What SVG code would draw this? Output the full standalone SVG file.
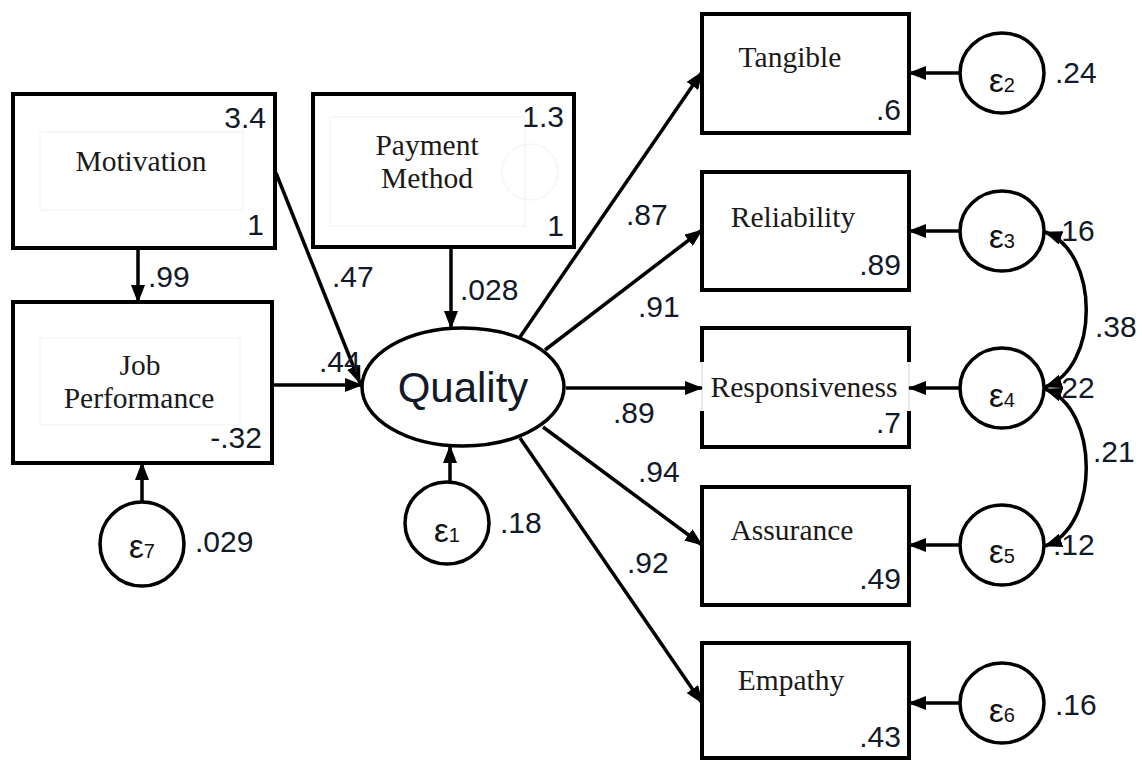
<svg xmlns="http://www.w3.org/2000/svg" width="1142" height="762" viewBox="0 0 1142 762">
<style>
.box{fill:#fff;stroke:#000;stroke-width:4}
.faint{fill:none;stroke:#f1f1f1;stroke-width:1}
.lat{fill:#fff;stroke:#000;stroke-width:3.5}
.lbl{font-family:"Liberation Serif","Times New Roman",serif;font-size:29.5px;fill:#1a1a1a;text-anchor:middle}
.num{font-family:"Liberation Sans",Arial,sans-serif;font-size:30px;fill:#111a2a}
.end{text-anchor:end}
.eps{font-family:"Liberation Sans",Arial,sans-serif;font-size:33px;fill:#111;text-anchor:middle}
.sub{font-size:20px}
.q{font-family:"Liberation Sans",Arial,sans-serif;font-size:42px;fill:#111a2a;text-anchor:middle}
.arr{fill:none;stroke:#000;stroke-width:3.5;marker-end:url(#ah)}
.cov{fill:none;stroke:#000;stroke-width:3.5;marker-end:url(#ah);marker-start:url(#ah)}
</style>
<defs>
<marker id="ah" markerUnits="userSpaceOnUse" markerWidth="18" markerHeight="14" refX="17" refY="7" orient="auto-start-reverse">
<path d="M0,0 L18,7 L0,14 z" fill="#000"/>
</marker>
</defs>
<rect width="1142" height="762" fill="#fff"/>

<g id="motivation">
<rect class="box" x="13" y="94" width="262" height="154"/>
<rect class="faint" x="40" y="132" width="203" height="78"/>
<text class="lbl" x="141" y="171">Motivation</text>
<text class="num end" x="266" y="128">3.4</text>
<text class="num end" x="264" y="235">1</text>
</g>

<g id="payment">
<rect class="box" x="313" y="94" width="261" height="153"/>
<rect class="faint" x="330" y="117" width="195" height="109"/>
<circle class="faint" cx="530" cy="172" r="28"/>
<text class="lbl" x="427" y="155">Payment</text>
<text class="lbl" x="427" y="188">Method</text>
<text class="num end" x="564" y="127">1.3</text>
<text class="num end" x="564" y="236">1</text>
</g>

<g id="jobperformance">
<rect class="box" x="13" y="302" width="259" height="161"/>
<rect class="faint" x="40" y="338" width="200" height="87"/>
<text class="lbl" x="140" y="375">Job</text>
<text class="lbl" x="139" y="408">Performance</text>
<text class="num end" x="262" y="448">-.32</text>
</g>

<g id="e7">
<circle class="lat" cx="142" cy="544" r="42"/>
<text class="eps" x="142" y="558">ε<tspan class="sub">7</tspan></text>
<text class="num" x="195" y="552">.029</text>
</g>

<g id="quality">
<ellipse class="lat" cx="463" cy="387" rx="101" ry="59"/>
<text class="q" x="463" y="402">Quality</text>
</g>

<g id="e1">
<ellipse class="lat" cx="447" cy="523" rx="42" ry="41"/>
<text class="eps" x="447" y="542">ε<tspan class="sub">1</tspan></text>
<text class="num" x="500" y="533">.18</text>
</g>

<g id="tangible">
<rect class="box" x="702" y="14" width="207" height="119"/>
<text class="lbl" x="790" y="67">Tangible</text>
<text class="num end" x="901" y="120">.6</text>
</g>

<g id="reliability">
<rect class="box" x="702" y="172" width="207" height="118"/>
<text class="lbl" x="793" y="227">Reliability</text>
<text class="num end" x="901" y="275">.89</text>
</g>

<g id="responsiveness">
<rect class="box" x="702" y="328" width="207" height="119"/>
<rect x="698" y="362" width="215" height="49" fill="#fff"/>
<line x1="702" y1="362" x2="702" y2="411" stroke="#d0d0d0" stroke-width="1"/>
<line x1="909" y1="362" x2="909" y2="411" stroke="#d0d0d0" stroke-width="1"/>
<text class="lbl" x="804" y="397">Responsiveness</text>
<text class="num end" x="901" y="433">.7</text>
</g>

<g id="assurance">
<rect class="box" x="702" y="487" width="207" height="118"/>
<text class="lbl" x="792" y="540">Assurance</text>
<text class="num end" x="901" y="589">.49</text>
</g>

<g id="empathy">
<rect class="box" x="702" y="643" width="207" height="115"/>
<text class="lbl" x="791" y="690">Empathy</text>
<text class="num end" x="901" y="747">.43</text>
</g>

<g id="e2">
<ellipse class="lat" cx="1002" cy="73" rx="42" ry="40"/>
<text class="eps" x="1002" y="92">ε<tspan class="sub">2</tspan></text>
<text class="num" x="1055" y="83">.24</text>
</g>
<g id="e3">
<ellipse class="lat" cx="1002" cy="231" rx="42" ry="40"/>
<text class="eps" x="1002" y="248">ε<tspan class="sub">3</tspan></text>
<text class="num" x="1053" y="241">.16</text>
</g>
<g id="e4">
<ellipse class="lat" cx="1002" cy="388" rx="42" ry="40"/>
<text class="eps" x="1002" y="407">ε<tspan class="sub">4</tspan></text>
<text class="num" x="1053" y="398">.22</text>
</g>
<g id="e5">
<ellipse class="lat" cx="1002" cy="545" rx="42" ry="40"/>
<text class="eps" x="1002" y="563">ε<tspan class="sub">5</tspan></text>
<text class="num" x="1053" y="555">.12</text>
</g>
<g id="e6">
<ellipse class="lat" cx="1002" cy="703" rx="42" ry="40"/>
<text class="eps" x="1002" y="722">ε<tspan class="sub">6</tspan></text>
<text class="num" x="1055" y="715">.16</text>
</g>

<g id="connectors">
<path class="arr" d="M138,248 L138,302"/>
<path class="arr" d="M142,502 L142,463"/>
<path class="arr" d="M272,385 L362,385"/>
<path class="arr" d="M276,173 L360,383"/>
<path class="arr" d="M451,247 L451,328"/>
<path class="arr" d="M450,482 L450,446"/>
<path class="arr" d="M520,337 L702,72"/>
<path class="arr" d="M545,350 L702,230"/>
<path class="arr" d="M566,388 L702,388"/>
<path class="arr" d="M543,427 L702,545"/>
<path class="arr" d="M520,438 L702,703"/>
<path class="arr" d="M960,73 L909,73"/>
<path class="arr" d="M960,231 L909,231"/>
<path class="arr" d="M960,388 L909,388"/>
<path class="arr" d="M960,545 L909,545"/>
<path class="arr" d="M960,703 L909,703"/>
<path class="cov" d="M1045,232 C1100,252 1100,368 1045,387"/>
<path class="cov" d="M1045,389 C1100,408 1100,527 1045,546"/>
</g>

<g id="edge-labels">
<text class="num" x="148" y="287">.99</text>
<text class="num" x="332" y="287">.47</text>
<text class="num" x="319" y="372">.44</text>
<text class="num" x="460" y="300">.028</text>
<text class="num" x="626" y="225">.87</text>
<text class="num" x="638" y="317">.91</text>
<text class="num" x="613" y="423">.89</text>
<text class="num" x="638" y="482">.94</text>
<text class="num" x="627" y="573">.92</text>
<text class="num" x="1095" y="337">.38</text>
<text class="num" x="1093" y="462">.21</text>
</g>
</svg>
